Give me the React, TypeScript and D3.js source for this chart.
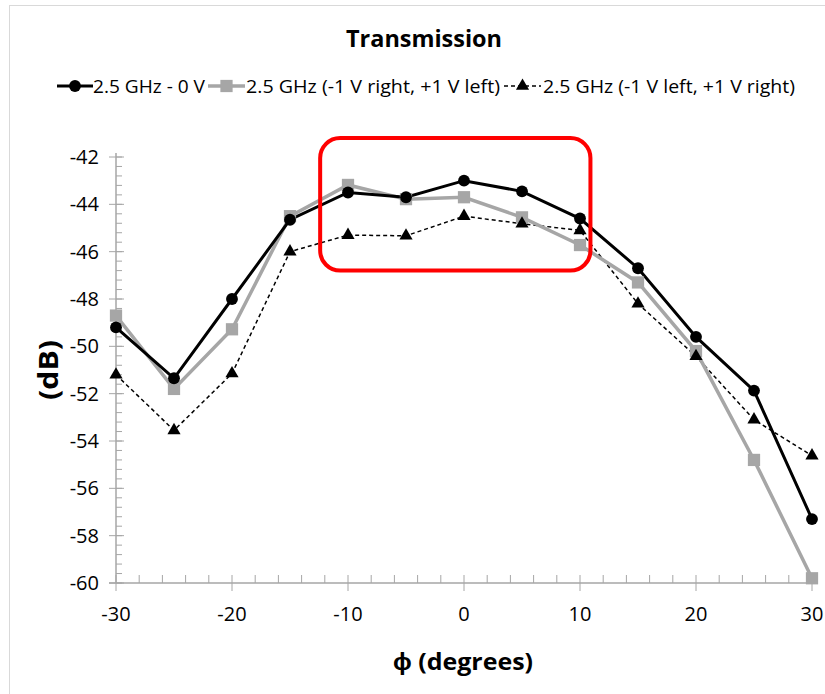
import React, {useEffect, useRef} from 'react';
import * as d3 from 'd3';

// angles (degrees)
const angles = [-30, -25, -20, -15, -10, -5, 0, 5, 10, 15, 20, 25, 30];

// transmission (dB)
const zeroVolt = [-49.2, -51.35, -48.0, -44.65, -43.5, -43.7, -43.0, -43.45, -44.6, -46.7, -49.6, -51.87, -57.3];
const rightNegLeftPos = [-48.7, -51.8, -49.28, -44.5, -43.18, -43.78, -43.7, -44.55, -45.72, -47.3, -50.2, -54.8, -59.8];
const leftNegRightPos = [-51.2, -53.55, -51.15, -46.0, -45.3, -45.33, -44.5, -44.82, -45.1, -48.2, -50.42, -53.1, -54.62];

const xTicks = [-30, -20, -10, 0, 10, 20, 30];
const yTicks = [-42, -44, -46, -48, -50, -52, -54, -56, -58, -60];

const seriesNames = [
    '2.5 GHz - 0 V',
    '2.5 GHz (-1 V right, +1 V left)',
    '2.5 GHz (-1 V left, +1 V right)',
];

const FONT = '"Open Sans", "Liberation Sans", sans-serif';
const BOLD_FONT = '"Open Sans", "Liberation Sans", sans-serif';

function App() {
    const ref = useRef<SVGSVGElement>(null);

    const width = 825;
    const height = 694;

    useEffect(() => {
        const svg = d3.select(ref.current);
        svg.selectAll('*').remove();

        const x = d3.scaleLinear().domain([-30, 30]).range([116, 812]);
        const y = d3.scaleLinear().domain([-42, -60]).range([157, 583]);

        // outer chart border (only top/left visible)
        svg.append('rect')
            .attr('x', 9.5).attr('y', 5.5)
            .attr('width', 840).attr('height', 720)
            .attr('fill', 'none')
            .attr('stroke', '#d9d9d9');

        // title
        svg.append('text')
            .attr('x', 424).attr('y', 47)
            .attr('text-anchor', 'middle')
            .attr('font-family', BOLD_FONT)
            .attr('font-weight', 'bold')
            .attr('font-size', 23)
            .attr('textLength', 156)
            .attr('lengthAdjust', 'spacingAndGlyphs')
            .text('Transmission');

        const axisColor = '#a6a6a6';

        // y minor ticks (inside)
        const yMinor = d3.range(0, 46).map((i) => -42 - i * 0.4).filter((v) => v >= -60);
        svg.append('g').selectAll('line')
            .data(yMinor)
            .enter().append('line')
            .attr('x1', x(-30)).attr('x2', x(-30) + 6)
            .attr('y1', (d) => y(d)).attr('y2', (d) => y(d))
            .attr('stroke', axisColor);

        // y major ticks
        svg.append('g').selectAll('line')
            .data(yTicks)
            .enter().append('line')
            .attr('x1', x(-30) - 7).attr('x2', x(-30) + 8)
            .attr('y1', (d) => y(d)).attr('y2', (d) => y(d))
            .attr('stroke', axisColor);

        // x minor ticks (inside)
        const xMinor = d3.range(-30, 31, 2);
        svg.append('g').selectAll('line')
            .data(xMinor)
            .enter().append('line')
            .attr('x1', (d) => x(d)).attr('x2', (d) => x(d))
            .attr('y1', y(-60) - 8).attr('y2', y(-60))
            .attr('stroke', axisColor);

        // x major ticks (outside)
        svg.append('g').selectAll('line')
            .data(xTicks)
            .enter().append('line')
            .attr('x1', (d) => x(d)).attr('x2', (d) => x(d))
            .attr('y1', y(-60)).attr('y2', y(-60) + 8)
            .attr('stroke', axisColor);

        // axis lines
        svg.append('line')
            .attr('x1', x(-30)).attr('x2', x(-30))
            .attr('y1', y(-42) - 4).attr('y2', y(-60))
            .attr('stroke', axisColor).attr('stroke-width', 1.5);
        svg.append('line')
            .attr('x1', x(-30) - 7).attr('x2', x(30))
            .attr('y1', y(-60)).attr('y2', y(-60))
            .attr('stroke', axisColor).attr('stroke-width', 1.5);

        // tick labels
        svg.append('g').selectAll('text')
            .data(yTicks)
            .enter().append('text')
            .attr('x', 99).attr('y', (d) => y(d) + 7)
            .attr('text-anchor', 'end')
            .attr('font-family', FONT)
            .attr('font-size', 20)
            .text((d) => d);

        svg.append('g').selectAll('text')
            .data(xTicks)
            .enter().append('text')
            .attr('x', (d) => x(d)).attr('y', 621)
            .attr('text-anchor', 'middle')
            .attr('font-family', FONT)
            .attr('font-size', 20)
            .text((d) => d);

        // axis titles
        svg.append('text')
            .attr('transform', 'translate(58, 370) rotate(-90)')
            .attr('text-anchor', 'middle')
            .attr('font-family', BOLD_FONT)
            .attr('font-weight', 'bold')
            .attr('font-size', 26)
            .attr('textLength', 60)
            .attr('lengthAdjust', 'spacingAndGlyphs')
            .text('(dB)');

        svg.append('text')
            .attr('x', 463).attr('y', 670)
            .attr('text-anchor', 'middle')
            .attr('font-family', BOLD_FONT)
            .attr('font-weight', 'bold')
            .attr('font-size', 24)
            .attr('textLength', 140)
            .attr('lengthAdjust', 'spacingAndGlyphs')
            .text('ϕ (degrees)');

        const line = d3.line<number>()
            .x((_, i) => x(angles[i]))
            .y((d) => y(d));

        const circle = d3.symbol().type(d3.symbolCircle).size(110);
        const square = d3.symbol().type(d3.symbolSquare).size(150);
        const triangle = d3.symbol().type(d3.symbolTriangle).size(75);

        // series lines
        svg.append('path')
            .attr('d', line(leftNegRightPos))
            .attr('fill', 'none')
            .attr('stroke', '#000')
            .attr('stroke-width', 1.5)
            .attr('stroke-dasharray', '4,3');
        svg.append('path')
            .attr('d', line(rightNegLeftPos))
            .attr('fill', 'none')
            .attr('stroke', '#a6a6a6')
            .attr('stroke-width', 3.5);
        svg.append('path')
            .attr('d', line(zeroVolt))
            .attr('fill', 'none')
            .attr('stroke', '#000')
            .attr('stroke-width', 3);

        // markers
        svg.append('g').selectAll('path')
            .data(rightNegLeftPos)
            .enter().append('path')
            .attr('d', square)
            .attr('transform', (d, i) => `translate(${x(angles[i])}, ${y(d)})`)
            .attr('fill', '#a6a6a6');
        svg.append('g').selectAll('path')
            .data(zeroVolt)
            .enter().append('path')
            .attr('d', circle)
            .attr('transform', (d, i) => `translate(${x(angles[i])}, ${y(d)})`)
            .attr('fill', '#000');
        svg.append('g').selectAll('path')
            .data(leftNegRightPos)
            .enter().append('path')
            .attr('d', triangle)
            .attr('transform', (d, i) => `translate(${x(angles[i])}, ${y(d)})`)
            .attr('fill', '#000');

        // legend
        const legendY = 86;
        const legendItems = [
            {x0: 57, w: 36, tx: 93, tl: 112, stroke: '#000', sw: 3, dash: null, sym: circle, fill: '#000'},
            {x0: 208, w: 37, tx: 246, tl: 254, stroke: '#a6a6a6', sw: 3.5, dash: null, sym: square, fill: '#a6a6a6'},
            {x0: 504, w: 37, tx: 543, tl: 252, stroke: '#000', sw: 1.5, dash: '4,3', sym: triangle, fill: '#000'},
        ];
        legendItems.forEach((it, i) => {
            svg.append('line')
                .attr('x1', it.x0).attr('x2', it.x0 + it.w)
                .attr('y1', legendY).attr('y2', legendY)
                .attr('stroke', it.stroke)
                .attr('stroke-width', it.sw)
                .attr('stroke-dasharray', it.dash);
            svg.append('path')
                .attr('d', it.sym)
                .attr('transform', `translate(${it.x0 + it.w / 2}, ${legendY})`)
                .attr('fill', it.fill);
            svg.append('text')
                .attr('x', it.tx).attr('y', legendY + 7)
                .attr('font-family', FONT)
                .attr('font-size', 19)
                .attr('textLength', it.tl)
                .attr('lengthAdjust', 'spacingAndGlyphs')
                .text(seriesNames[i]);
        });

        // red highlight box
        svg.append('rect')
            .attr('x', x(-12.4)).attr('y', y(-41.2))
            .attr('width', x(10.9) - x(-12.4))
            .attr('height', y(-46.8) - y(-41.2))
            .attr('rx', 20).attr('ry', 20)
            .attr('fill', 'none')
            .attr('stroke', '#ff0000')
            .attr('stroke-width', 4);
    }, []);

    return (
        <svg ref={ref} width={width} height={height}
             style={{position: 'absolute', left: 0, top: 0, background: '#fff'}}/>
    );
}

export default App;
